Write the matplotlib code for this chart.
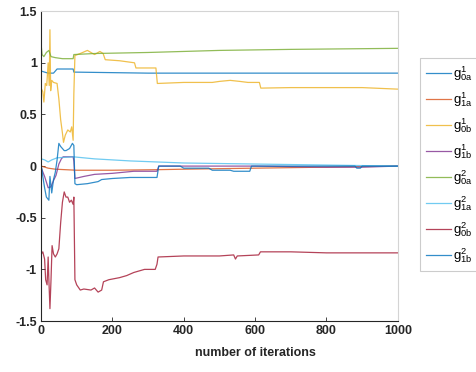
import matplotlib
matplotlib.use('Agg')
import matplotlib.pyplot as plt

plt.rcParams['font.family'] = ['Liberation Sans', 'DejaVu Sans']
plt.rcParams['mathtext.fontset'] = 'custom'
plt.rcParams['mathtext.rm'] = 'Liberation Sans'
plt.rcParams['mathtext.it'] = 'Liberation Sans'

# g^1_0a (blue)
it_g10a = [0, 1, 10, 20, 35, 45, 90, 92, 300, 1000]
g10a = [0, 0.92, 0.91, 0.9, 0.9, 0.94, 0.94, 0.91, 0.9, 0.9]

# g^1_1a (orange)
it_g11a = [0, 1, 20, 40, 100, 200, 320, 400, 600, 800, 1000]
g11a = [0, 0.0, -0.02, -0.03, -0.04, -0.04, -0.035, -0.03, -0.02, -0.01, 0.0]

# g^1_0b (yellow)
it_g10b = [0, 1, 5, 8, 12, 16, 20, 23, 25, 27, 30, 35, 45, 50, 55, 60, 63,
           68, 75, 82, 86, 90, 92, 95, 110, 130, 150, 165, 174, 180, 220,
           262, 266, 322, 326, 400, 480, 500, 530, 557, 580, 612, 616, 700,
           800, 900, 1000]
g10b = [0, 0.75, 0.72, 0.62, 0.8, 0.78, 1.0, 0.78, 1.32, 0.73, 0.83, 0.81,
        0.8, 0.65, 0.45, 0.32, 0.23, 0.3, 0.35, 0.33, 0.38, 0.25, 0.7, 1.07,
        1.09, 1.12, 1.08, 1.11, 1.09, 1.03, 1.02, 1.0, 0.95, 0.95, 0.8, 0.81,
        0.81, 0.82, 0.83, 0.82, 0.81, 0.81, 0.755, 0.76, 0.76, 0.76, 0.745]

# g^1_1b (purple)
it_g11b = [0, 1, 10, 20, 28, 35, 42, 50, 57, 62, 90, 92, 95, 120, 150, 200,
           260, 325, 330, 600, 800, 900, 1000]
g11b = [0, -0.02, -0.1, -0.21, -0.2, -0.14, -0.09, 0.02, 0.07, 0.09, 0.09,
        0.05, -0.12, -0.1, -0.08, -0.07, -0.05, -0.05, 0.0, 0.0, -0.01, -0.01,
        0.0]

# g^2_0a (green)
it_g20a = [0, 1, 3, 8, 15, 22, 28, 40, 60, 90, 92, 150, 300, 500, 700, 1000]
g20a = [0, 1.15, 1.08, 1.06, 1.1, 1.12, 1.06, 1.05, 1.04, 1.04, 1.08, 1.09,
        1.1, 1.12, 1.13, 1.14]

# g^2_1a (light blue)
it_g21a = [0, 1, 10, 20, 30, 45, 90, 150, 250, 400, 600, 800, 1000]
g21a = [0, 0.07, 0.06, 0.04, 0.06, 0.08, 0.09, 0.07, 0.05, 0.03, 0.02,
        0.01, 0.0]

# g^2_0b (red)
it_g20b = [0, 1, 5, 10, 13, 17, 20, 22, 25, 28, 31, 35, 40, 45, 50, 55, 60,
           65, 70, 75, 80, 85, 90, 92, 95, 100, 110, 120, 140, 150, 160, 170,
           175, 190, 220, 240, 260, 290, 320, 325, 328, 400, 500, 540, 545,
           550, 610, 615, 700, 800, 1000]
g20b = [0, -0.85, -0.83, -0.9, -1.1, -1.15, -0.88, -1.1, -1.38, -1.1, -0.77,
        -0.85, -0.88, -0.85, -0.8, -0.55, -0.35, -0.25, -0.3, -0.3, -0.35,
        -0.33, -0.37, -0.3, -1.1, -1.15, -1.2, -1.19, -1.2, -1.18, -1.22,
        -1.2, -1.12, -1.1, -1.08, -1.06, -1.03, -1.0, -1.0, -0.95, -0.88,
        -0.87, -0.87, -0.86, -0.9, -0.87, -0.86, -0.83, -0.83, -0.84, -0.84]

# g^2_1b (blue)
it_g21b = [0, 1, 5, 10, 15, 22, 25, 30, 35, 40, 45, 50, 55, 60, 65, 70, 80,
           88, 92, 95, 100, 130, 160, 170, 200, 250, 325, 330, 390, 400, 470,
           480, 530, 540, 585, 590, 880, 885, 895, 900, 1000]
g21b = [0, 0.0, -0.1, -0.21, -0.3, -0.33, -0.1, -0.26, -0.13, -0.06, 0.06,
        0.22, 0.19, 0.17, 0.15, 0.15, 0.17, 0.22, 0.2, -0.17, -0.18, -0.17,
        -0.15, -0.13, -0.12, -0.11, -0.11, 0.0, 0.0, -0.02, -0.02, -0.04,
        -0.04, -0.05, -0.05, 0.0, 0.0, -0.02, -0.02, 0.0, 0.0]

series = [
    (it_g10a, g10a, '#0072BD', r'$\mathrm{g}^{1}_{0a}$'),
    (it_g11a, g11a, '#D95319', r'$\mathrm{g}^{1}_{1a}$'),
    (it_g10b, g10b, '#EDB120', r'$\mathrm{g}^{1}_{0b}$'),
    (it_g11b, g11b, '#7E2F8E', r'$\mathrm{g}^{1}_{1b}$'),
    (it_g20a, g20a, '#77AC30', r'$\mathrm{g}^{2}_{0a}$'),
    (it_g21a, g21a, '#4DBEEE', r'$\mathrm{g}^{2}_{1a}$'),
    (it_g20b, g20b, '#A2142F', r'$\mathrm{g}^{2}_{0b}$'),
    (it_g21b, g21b, '#0072BD', r'$\mathrm{g}^{2}_{1b}$'),
]

fig = plt.figure(figsize=(4.77, 3.72), dpi=100)
ax = fig.add_axes([0.086, 0.137, 0.748, 0.833])

for x, y, c, lab in series:
    ax.plot(x, y, color=c, lw=0.9, alpha=0.8, label=lab)

ax.set_xlim(0, 1000)
ax.set_ylim(-1.5, 1.5)
ax.set_xticks([0, 200, 400, 600, 800, 1000])
ax.set_yticks([-1.5, -1, -0.5, 0, 0.5, 1, 1.5])
ax.set_yticklabels(['-1.5', '-1', '-0.5', '0', '0.5', '1', '1.5'])
ax.tick_params(direction='in', length=3, width=0.6, colors='#262626',
               labelsize=9, pad=3)
for lbl in ax.get_xticklabels() + ax.get_yticklabels():
    lbl.set_fontweight('bold')
for s in ['top', 'right']:
    ax.spines[s].set_color('#d4d4d4')
    ax.spines[s].set_linewidth(0.8)
for s in ['left', 'bottom']:
    ax.spines[s].set_color('#262626')
    ax.spines[s].set_linewidth(0.8)

ax.set_xlabel('number of iterations', fontsize=9, fontweight='bold',
              color='#262626', labelpad=4)
ax.xaxis.set_label_coords(0.60, -0.085)

leg = fig.legend(loc='upper left', bbox_to_anchor=(0.881, 0.843),
                 bbox_transform=fig.transFigure, fontsize=9.5,
                 handlelength=1.85, labelspacing=0.55, borderpad=0.45,
                 borderaxespad=0, handletextpad=0.2, fancybox=False,
                 framealpha=1)
leg.get_frame().set_edgecolor('#cccccc')
leg.get_frame().set_linewidth(0.8)

fig.savefig('out.png', dpi=100)
